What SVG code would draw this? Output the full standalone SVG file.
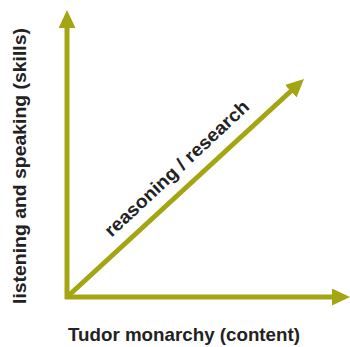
<svg xmlns="http://www.w3.org/2000/svg" width="350" height="347" viewBox="0 0 350 347">
<style>
.axis{stroke:#a4a512;stroke-width:5;fill:none}
.lbl{font-family:"Liberation Sans",Arial,sans-serif;font-weight:bold;font-size:18.5px;fill:#222}
</style>
<defs>
<marker id="ah" markerUnits="userSpaceOnUse" viewBox="0 0 18 17" refX="4" refY="8.5" markerWidth="18" markerHeight="17" orient="auto">
<path d="M0,0 L18,8.5 L0,17 Z" fill="#a4a512"/>
</marker>
</defs>
<rect width="350" height="347" fill="#fff"/>
<g id="connectors">
<path class="axis" d="M67,299 L67,24" marker-end="url(#ah)"/>
<path class="axis" d="M65,297 L336,297" marker-end="url(#ah)"/>
<path class="axis" d="M67,297 L293.7,88.5" marker-end="url(#ah)"/>
</g>
<g id="y-label"><text class="lbl" transform="translate(26,166) rotate(-90)" text-anchor="middle" textLength="276" lengthAdjust="spacingAndGlyphs">listening and speaking (skills)</text></g>
<g id="x-label"><text class="lbl" x="184" y="341" text-anchor="middle" textLength="232" lengthAdjust="spacingAndGlyphs">Tudor monarchy (content)</text></g>
<g id="diag-label"><text class="lbl" transform="translate(181,173) rotate(-43)" text-anchor="middle" textLength="190" lengthAdjust="spacingAndGlyphs">reasoning / research</text></g>
</svg>
